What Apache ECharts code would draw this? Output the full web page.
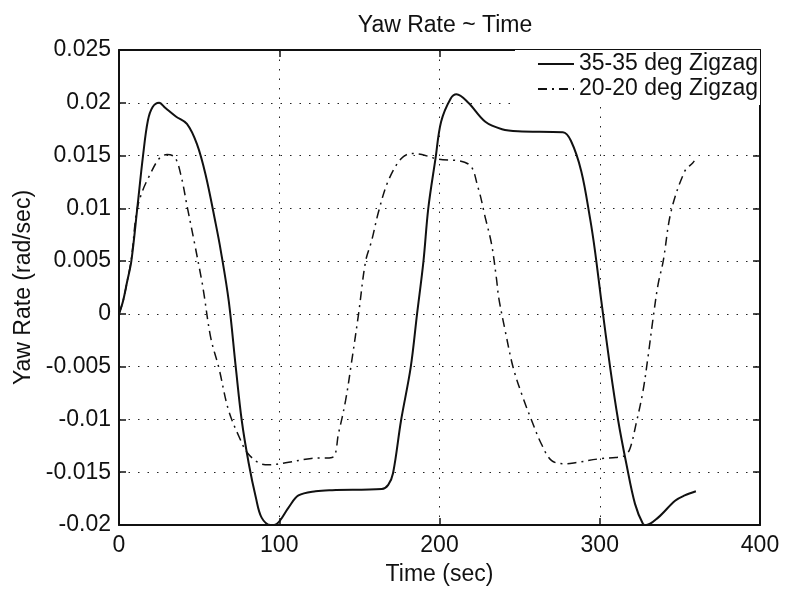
<!DOCTYPE html>
<html>
<head>
<meta charset="utf-8">
<script src="https://cdn.jsdelivr.net/npm/echarts@6/dist/echarts.min.js"></script>
<style>
  html, body { margin: 0; padding: 0; background: #fff; }
  #chart { width: 788px; height: 591px; }
</style>
</head>
<body>
<div id="chart"></div>
<script>
var myChart = echarts.init(document.getElementById("chart"));

// 35-35 deg zigzag: [time (sec), yaw rate (rad/sec)]
const zig35 = [
  [0, 0], [2.5, 0.0012], [5, 0.003], [7.7, 0.005], [11.4, 0.01], [15, 0.015],
  [18, 0.0183], [21, 0.0196], [25, 0.02], [29, 0.0195], [35.5, 0.0187],
  [42.4, 0.018], [48.6, 0.0161], [54, 0.0132], [60.4, 0.0085], [63.5, 0.006],
  [68.5, 0.0012], [72.9, -0.0051], [76.6, -0.0101], [81, -0.0142],
  [85.4, -0.0174], [89, -0.0193], [94.7, -0.02], [98.4, -0.0199],
  [106, -0.0183], [112, -0.0172], [122.7, -0.0168], [133, -0.0167],
  [164, -0.0166], [168, -0.0162], [171, -0.0151], [176, -0.0101],
  [182, -0.0051], [186, 0], [190, 0.005], [193, 0.01], [197.5, 0.0147],
  [201, 0.0182], [207, 0.0204], [210.6, 0.0208], [218, 0.02], [228.6, 0.0182],
  [239, 0.0175], [249, 0.0173], [277, 0.0172], [282, 0.0164], [288.5, 0.0135],
  [294, 0.009], [297, 0.006], [301, 0.0012], [306.5, -0.0051], [311.5, -0.0101],
  [316.6, -0.0142], [322, -0.018], [327, -0.0199], [329, -0.02], [336.4, -0.0193],
  [347, -0.0177], [353, -0.0172], [360, -0.0168]
];

// 20-20 deg zigzag
const zig20 = [
  [0, 0], [2.5, 0.0012], [5, 0.003], [7.7, 0.0052], [11, 0.0097], [14.3, 0.0115],
  [18.7, 0.013], [25, 0.0147], [30, 0.0151], [35, 0.0148], [39, 0.0129],
  [42.5, 0.0102], [47, 0.0068], [51.7, 0.0031], [53, 0.0019], [57.3, -0.0023],
  [62.3, -0.0051], [68.5, -0.0092], [76, -0.012], [79.8, -0.0131], [87, -0.0141],
  [93.5, -0.0143], [104, -0.0141], [120, -0.0137], [133, -0.0136],
  [137, -0.0113], [141.4, -0.0082], [145, -0.0047], [149.5, 0], [153.9, 0.005],
  [157.6, 0.0069], [162, 0.0097], [168, 0.0126], [176, 0.0147], [182.6, 0.0152],
  [189, 0.0151], [198, 0.0147], [218, 0.0142], [224, 0.012], [228.6, 0.0091],
  [232.5, 0.0066], [235.5, 0.0034], [237, 0.0015], [241, -0.0016],
  [246, -0.0051], [252, -0.0079], [257.5, -0.0101], [263.5, -0.0123],
  [270, -0.0139], [278.5, -0.0142], [284.7, -0.0141], [301, -0.0137],
  [310, -0.0136], [316, -0.0134], [319, -0.0127], [322.7, -0.0104],
  [327, -0.0073], [330, -0.0042], [333.3, -0.0004], [336.4, 0.0028],
  [339.6, 0.005], [344.5, 0.0097], [353, 0.0135], [358, 0.0143], [359, 0.0145]
];

const seriesNames = ["35-35 deg Zigzag", "20-20 deg Zigzag"];
const xTicks = [0, 100, 200, 300, 400];
const yTicks = [-0.02, -0.015, -0.01, -0.005, 0, 0.005, 0.01, 0.015, 0.02, 0.025];

const font = "Liberation Sans, Arial, sans-serif";
const fs = 23;
const gridDots = { show: true, lineStyle: { color: "#222", type: [1.5, 8], width: 1 } };
const boxTick = { show: true, inside: true, length: 7, lineStyle: { color: "#111", width: 1.5 } };

const option = {
  backgroundColor: "#fff",
  animation: false,
  title: {
    text: "Yaw Rate ~ Time",
    left: 440,
    textAlign: "center",
    top: 9,
    textStyle: { fontFamily: font, fontSize: fs, fontWeight: "normal", color: "#111" },
  },
  legend: {
    orient: "vertical",
    right: 28,
    top: 50,
    padding: [2, 2, 4, 22],
    itemGap: 1,
    itemWidth: 36,
    itemHeight: 10,
    backgroundColor: "#fff",
    itemStyle: { opacity: 0 },
    textStyle: { fontFamily: font, fontSize: fs, color: "#111", lineHeight: 24 },
    data: seriesNames,
  },
  grid: { left: 119, right: 28, top: 50, bottom: 66, show: false },
  xAxis: [
    {
      type: "value",
      min: xTicks[0],
      max: xTicks[xTicks.length - 1],
      interval: 100,
      name: "Time (sec)",
      nameLocation: "middle",
      nameGap: 38,
      nameTextStyle: { fontFamily: font, fontSize: fs, color: "#111" },
      axisLine: { show: true, onZero: false, lineStyle: { color: "#111", width: 2 } },
      axisTick: boxTick,
      axisLabel: { fontFamily: font, fontSize: fs, color: "#111", margin: 9 },
      splitLine: gridDots,
    },
    {
      type: "value",
      position: "top",
      min: xTicks[0],
      max: xTicks[xTicks.length - 1],
      interval: 100,
      axisLine: { show: true, onZero: false, lineStyle: { color: "#111", width: 2 } },
      axisTick: boxTick,
      axisLabel: { show: false },
      splitLine: { show: false },
    },
  ],
  yAxis: [
    {
      type: "value",
      min: yTicks[0],
      max: yTicks[yTicks.length - 1],
      interval: 0.005,
      name: "Yaw Rate (rad/sec)",
      nameLocation: "middle",
      nameGap: 83,
      nameTextStyle: { fontFamily: font, fontSize: fs, color: "#111" },
      axisLine: { show: true, onZero: false, lineStyle: { color: "#111", width: 2 } },
      axisTick: boxTick,
      axisLabel: {
        fontFamily: font, fontSize: fs, color: "#111", margin: 8,
        formatter: function (v) { return String(+v.toFixed(3)); },
      },
      splitLine: gridDots,
    },
    {
      type: "value",
      position: "right",
      min: yTicks[0],
      max: yTicks[yTicks.length - 1],
      interval: 0.005,
      axisLine: { show: true, onZero: false, lineStyle: { color: "#111", width: 2 } },
      axisTick: boxTick,
      axisLabel: { show: false },
      splitLine: { show: false },
    },
  ],
  series: [
    {
      name: seriesNames[0],
      type: "line",
      data: zig35,
      smooth: 0.35,
      symbol: "none",
      itemStyle: { color: "#111" },
      lineStyle: { color: "#111", width: 2, type: "solid" },
    },
    {
      name: seriesNames[1],
      type: "line",
      data: zig20,
      smooth: 0.35,
      symbol: "none",
      itemStyle: { color: "#111" },
      lineStyle: { color: "#111", width: 1.5, type: [9, 5, 2, 5] },
    },
  ],
};

myChart.setOption(option);
</script>
</body>
</html>
